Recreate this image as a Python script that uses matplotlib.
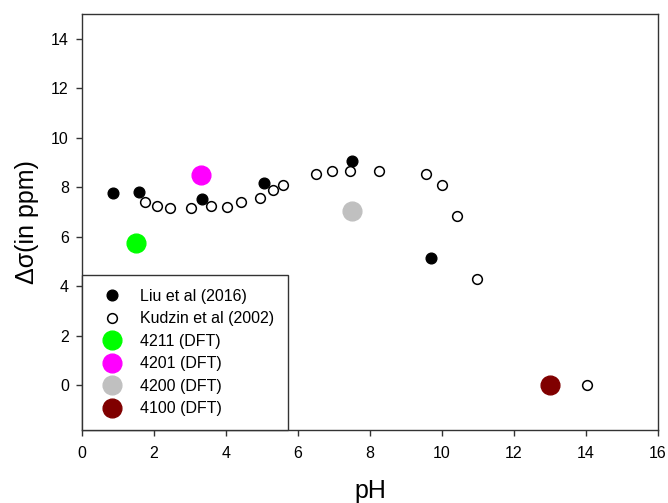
import matplotlib
matplotlib.use("Agg")
import matplotlib.pyplot as plt

plt.rcParams['font.family'] = ['Liberation Sans', 'DejaVu Sans']

# ---------- data -----------------------------------------------------------
liu_ph = [0.87, 1.58, 3.33, 5.06, 7.49, 9.69]
liu_ds = [7.76, 7.80, 7.54, 8.19, 9.06, 5.14]

kudzin_ph = [1.75, 2.09, 2.44, 3.04, 3.57, 4.04, 4.41, 4.95, 5.31, 5.57,
             6.51, 6.95, 7.45, 8.25, 9.55, 9.99, 10.42, 10.97, 14.02]
kudzin_ds = [7.40, 7.26, 7.18, 7.18, 7.26, 7.22, 7.40, 7.58, 7.89, 8.11,
             8.54, 8.65, 8.65, 8.65, 8.54, 8.11, 6.83, 4.30, 0.01]

dft_labels = ['4211 (DFT)', '4201 (DFT)', '4200 (DFT)', '4100 (DFT)']
dft_ph = [1.50, 3.30, 7.51, 13.0]
dft_ds = [5.77, 8.51, 7.05, 0.0]
dft_colors = ['#00ff00', '#ff00ff', '#c0c0c0', '#800000']

# ---------- figure ---------------------------------------------------------
fig = plt.figure(figsize=(6.68, 5.03), dpi=100)
ax = fig.add_axes([0.1228, 0.1451, 0.8622, 0.8271])

ax.plot(liu_ph, liu_ds, 'o', ls='none', color='black', ms=7.7,
        label='Liu et al (2016)')
ax.plot(kudzin_ph, kudzin_ds, 'o', ls='none', mfc='white', mec='black',
        mew=1.1, ms=7.0, label='Kudzin et al (2002)')
for x, y, c, lbl in zip(dft_ph, dft_ds, dft_colors, dft_labels):
    ax.plot([x], [y], 'o', ls='none', color=c, ms=13.5, label=lbl)

ax.set_xlim(0, 16)
ax.set_ylim(-1.8, 15)
ax.set_xticks(range(0, 17, 2))
ax.set_yticks(range(0, 15, 2))
ax.tick_params(direction='out', length=4.5, width=1, labelsize=11.5,
               color='#333333')
ax.tick_params(axis='x', pad=7)
ax.tick_params(axis='y', pad=5)
for sp in ax.spines.values():
    sp.set_linewidth(1)
    sp.set_color('#333333')

ax.set_xlabel('pH', fontsize=18)
ax.xaxis.label.set_verticalalignment('baseline')
ax.xaxis.set_label_coords(0.5, -0.163)
ax.set_ylabel('Δσ(in ppm)', fontsize=18)
ax.yaxis.label.set_verticalalignment('center')
ax.yaxis.set_label_coords(-0.0955, 0.5)

leg = ax.legend(loc='lower left', bbox_to_anchor=(0, 0), borderaxespad=0,
                fontsize=11.5, fancybox=False, edgecolor='#333333',
                framealpha=1, numpoints=1, handlelength=2.0,
                handletextpad=0.8, borderpad=0.85, labelspacing=0.47)
leg.get_frame().set_linewidth(1)

fig.savefig('out.png', dpi=100)
